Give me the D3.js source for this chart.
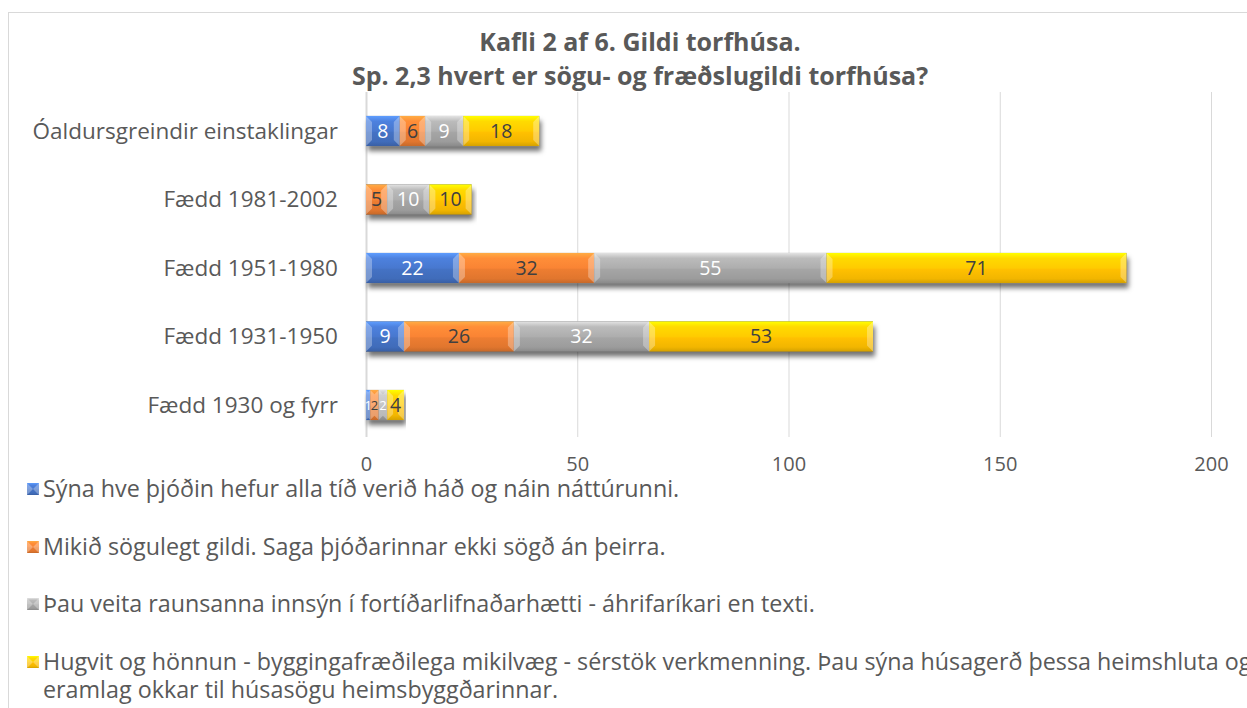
<!DOCTYPE html>
<html>
<head>
<meta charset="utf-8">
<script src="https://cdn.jsdelivr.net/npm/d3@7"></script>
<style>
  body { margin: 0; background: #fff; overflow: hidden; }
  svg { display: block; font-family: "Open Sans", sans-serif; }
</style>
</head>
<body>
<svg id="chart"></svg>
<script>
// chart data
var categories = [
    "Óaldursgreindir einstaklingar",
    "Fædd 1981-2002",
    "Fædd 1951-1980",
    "Fædd 1931-1950",
    "Fædd 1930 og fyrr"
];
var seriesNames = [
    "Sýna hve þjóðin hefur alla tíð verið háð og náin náttúrunni.",
    "Mikið sögulegt gildi. Saga þjóðarinnar ekki sögð án þeirra.",
    "Þau veita raunsanna innsýn í fortíðarlifnaðarhætti - áhrifaríkari en texti.",
    "Hugvit og hönnun - byggingafræðilega mikilvæg - sérstök verkmenning. Þau sýna húsagerð þessa heimshluta og eramlag okkar til húsasögu heimsbyggðarinnar."
];
var synaValues = [8, 0, 22, 9, 1];
var mikidValues = [6, 5, 32, 26, 2];
var pauValues = [9, 10, 55, 32, 2];
var hugvitValues = [18, 10, 71, 53, 4];
var xTicks = [0, 50, 100, 150, 200];
var titleLines = ["Kafli 2 af 6. Gildi torfhúsa.", "Sp. 2,3 hvert er sögu- og fræðslugildi torfhúsa?"];

var colors = ["#4472C4", "#ED7D31", "#A5A5A5", "#FFC000"];
var labelColors = ["#ffffff", "#404040", "#ffffff", "#404040"];

var width = 1247, height = 708;
var svg = d3.select("#chart").attr("width", width).attr("height", height);

// frame
svg.append("rect")
    .attr("x", 8.5).attr("y", 12.5)
    .attr("width", width).attr("height", height)
    .attr("fill", "#fff")
    .attr("stroke", "#d9d9d9");

var defs = svg.append("defs");

// beveled look: vertical gradient per colour
colors.forEach(function (c, i) {
    var g = defs.append("linearGradient")
        .attr("id", "grad" + i)
        .attr("x1", 0).attr("y1", 0).attr("x2", 0).attr("y2", 1);
    var base = d3.color(c);
    g.append("stop").attr("offset", "0%").attr("stop-color", base.brighter(0.9));
    g.append("stop").attr("offset", "18%").attr("stop-color", base.brighter(0.35));
    g.append("stop").attr("offset", "50%").attr("stop-color", base.brighter(0.15));
    g.append("stop").attr("offset", "55%").attr("stop-color", base);
    g.append("stop").attr("offset", "85%").attr("stop-color", base.darker(0.15));
    g.append("stop").attr("offset", "100%").attr("stop-color", base.darker(0.5));
});

var shadow = defs.append("filter").attr("id", "shadow")
    .attr("x", "-5%").attr("y", "-20%").attr("width", "110%").attr("height", "160%");
shadow.append("feDropShadow")
    .attr("dx", 2).attr("dy", 5).attr("stdDeviation", 2.5)
    .attr("flood-color", "#000").attr("flood-opacity", 0.55);

// title
svg.append("g").selectAll("text")
    .data(titleLines)
    .enter().append("text")
    .attr("x", 640)
    .attr("y", function (d, i) { return 51 + i * 34; })
    .attr("text-anchor", "middle")
    .attr("font-size", 25)
    .attr("font-weight", "bold")
    .attr("fill", "#595959")
    .text(function (d) { return d; });

// scales
var x = d3.scaleLinear().domain([0, 200]).range([366, 1211]);
var y = d3.scaleBand()
    .domain(categories)
    .range([96.75, 439.25])
    .paddingInner(0.56)
    .paddingOuter(0.28);

// gridlines
svg.append("g").selectAll("line")
    .data(xTicks)
    .enter().append("line")
    .attr("x1", function (d) { return x(d) + 0.5; })
    .attr("x2", function (d) { return x(d) + 0.5; })
    .attr("y1", 92).attr("y2", 437)
    .attr("stroke", "#d9d9d9")
    .attr("stroke-width", function (d) { return d === 0 ? 2 : 1; });

// x axis labels
var xAxis = svg.append("g")
    .attr("transform", "translate(0,457)")
    .call(d3.axisBottom(x).tickValues(xTicks).tickSize(0).tickPadding(0));
xAxis.select(".domain").remove();
xAxis.selectAll("text")
    .attr("font-family", "'Open Sans', sans-serif")
    .attr("font-size", 20)
    .attr("fill", "#595959");

// category labels
svg.append("g").selectAll("text")
    .data(categories)
    .enter().append("text")
    .attr("x", 338)
    .attr("y", function (d) { return y(d) + y.bandwidth() / 2; })
    .attr("dy", "0.35em")
    .attr("text-anchor", "end")
    .attr("font-size", 22.5)
    .attr("fill", "#595959")
    .text(function (d) { return d; });

// stacked data
var rows = categories.map(function (c, i) {
    return { cat: c, s0: synaValues[i], s1: mikidValues[i], s2: pauValues[i], s3: hugvitValues[i] };
});
var stack = d3.stack().keys(["s0", "s1", "s2", "s3"]);
var series = stack(rows);

// shadow layer under each whole bar
svg.append("g").selectAll("rect")
    .data(rows)
    .enter().append("rect")
    .attr("x", function (d) { return x(0); })
    .attr("y", function (d) { return y(d.cat); })
    .attr("width", function (d) { return x(d.s0 + d.s1 + d.s2 + d.s3) - x(0); })
    .attr("height", y.bandwidth())
    .attr("fill", "#555")
    .attr("filter", "url(#shadow)");

var layers = svg.append("g").selectAll("g")
    .data(series)
    .enter().append("g");

layers.selectAll("rect")
    .data(function (s) { return s.map(function (d) { return { s: s.index, d: d }; }); })
    .enter().append("rect")
    .attr("x", function (p) { return x(p.d[0]); })
    .attr("y", function (p) { return y(p.d.data.cat); })
    .attr("width", function (p) { return x(p.d[1]) - x(p.d[0]); })
    .attr("height", y.bandwidth())
    .attr("fill", function (p) { return "url(#grad" + p.s + ")"; });

// bevel edge highlights
layers.selectAll("path")
    .data(function (s) { return s.map(function (d) { return { s: s.index, d: d }; }); })
    .enter().append("path")
    .attr("d", function (p) {
        var x0 = x(p.d[0]), x1 = x(p.d[1]), y0 = y(p.d.data.cat), h = y.bandwidth();
        if (x1 - x0 < 1) return "";
        var b = Math.min(6, (x1 - x0) / 2);
        return "M" + x0 + "," + y0 + "L" + (x0 + b) + "," + (y0 + b) + "L" + (x0 + b) + "," + (y0 + h - b) + "L" + x0 + "," + (y0 + h) + "Z" +
            "M" + x1 + "," + y0 + "L" + (x1 - b) + "," + (y0 + b) + "L" + (x1 - b) + "," + (y0 + h - b) + "L" + x1 + "," + (y0 + h) + "Z";
    })
    .attr("fill", "#fff")
    .attr("opacity", 0.3);

// data labels (tiny segments get a smaller label so neighbours don't collide)
layers.selectAll("text")
    .data(function (s) { return s.filter(function (d) { return d[1] - d[0] > 0; }).map(function (d) { return { s: s.index, d: d }; }); })
    .enter().append("text")
    .attr("x", function (p) { return (x(p.d[0]) + x(p.d[1])) / 2; })
    .attr("y", function (p) { return y(p.d.data.cat) + y.bandwidth() / 2; })
    .attr("dy", "0.35em")
    .attr("text-anchor", "middle")
    .attr("font-size", function (p) { return x(p.d[1]) - x(p.d[0]) < 12 ? 13 : 19.5; })
    .attr("fill", function (p) { return labelColors[p.s]; })
    .text(function (p) { return p.d[1] - p.d[0]; });

// legend
var legendY = [489, 547, 604, 662];
var legend = svg.append("g").selectAll("g")
    .data(seriesNames)
    .enter().append("g")
    .attr("transform", function (d, i) { return "translate(27," + legendY[i] + ")"; });

legend.append("rect")
    .attr("x", 0).attr("y", -6)
    .attr("width", 12).attr("height", 12)
    .attr("fill", function (d, i) { return "url(#grad" + i + ")"; });

legend.append("path")
    .attr("d", "M0,-6L6,0L0,6Z M12,-6L6,0L12,6Z")
    .attr("fill", "#fff").attr("opacity", 0.3);

var legendText = legend.append("text")
    .attr("x", 16)
    .attr("dy", "0.35em")
    .attr("font-size", 23.3)
    .attr("fill", "#595959");

legendText.each(function (d, i) {
    var t = d3.select(this);
    if (i === 3) {
        var split = d.indexOf(" eramlag");
        t.append("tspan").attr("x", 16).text(d.slice(0, split));
        t.append("tspan").attr("x", 16).attr("dy", "1.2em").text(d.slice(split + 1));
    } else {
        t.text(d);
    }
});
</script>
</body>
</html>
